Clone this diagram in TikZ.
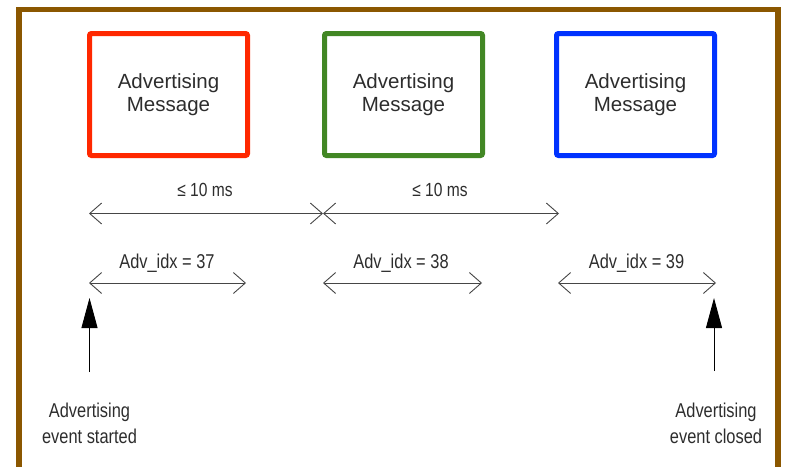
\documentclass[tikz,border=0pt]{standalone}
\usepackage{fontspec}
\setmainfont{Liberation Sans}
\newfontfamily\narrowfont[FakeStretch=0.82]{Liberation Sans}
\usetikzlibrary{arrows.meta}
\definecolor{framebrown}{RGB}{139,87,0}
\definecolor{boxred}{RGB}{255,40,0}
\definecolor{boxgreen}{RGB}{66,135,36}
\definecolor{boxblue}{RGB}{0,50,255}
\definecolor{txtgray}{RGB}{45,45,45}
\definecolor{linegray}{RGB}{70,70,70}
\tikzset{
  msgbox/.style={draw, line width=5pt, rounded corners=2pt, minimum width=158pt,
    minimum height=122pt, align=center, text=txtgray, inner sep=0pt,
    font=\fontsize{20.5}{23.5}\selectfont},
  span/.style={draw=linegray, line width=0.9pt, {Straight Barb[length=12pt,width=21pt]}-{Straight Barb[length=12pt,width=21pt]}},
  msglabel/.style={text=txtgray, inner sep=0pt, anchor=base, font=\narrowfont\fontsize{19}{21}\selectfont},
  idxlabel/.style={text=txtgray, inner sep=0pt, anchor=base, font=\narrowfont\fontsize{20}{22}\selectfont},
  evlabel/.style={text=txtgray, inner sep=0pt, align=center, font=\narrowfont\fontsize{20}{26}\selectfont},
  evarrow/.style={draw=black, line width=0.9pt, -{Triangle[length=30pt,width=16pt]}}
}
\begin{document}
\begin{tikzpicture}[x=1pt,y=-1pt]
\useasboundingbox (0,0) rectangle (786,466);
% frame
\draw[framebrown, line width=5.5pt] (19,470) -- (19,9.5) -- (778,9.5) -- (778,470);
% message boxes
\node[msgbox, draw=boxred] (m1) at (168.5,94.5) {Advertising\\Message};
\node[msgbox, draw=boxgreen] (m2) at (403.5,94.5) {Advertising\\Message};
\node[msgbox, draw=boxblue] (m3) at (635.5,94.5) {Advertising\\Message};
% interval row
\coordinate (t0) at (89,213.5);
\coordinate (t1) at (323,213.5);
\coordinate (t2) at (559,213.5);
\draw[span] (t0) -- (t1);
\draw[span] (t1) -- (t2);
\node[msglabel] (ms1) at (205,196.5) {≤ 10 ms};
\node[msglabel] (ms2) at (440,196.5) {≤ 10 ms};
% index row
\coordinate (a0) at (89,283);
\coordinate (a1) at (246,283);
\coordinate (b0) at (323,283);
\coordinate (b1) at (482,283);
\coordinate (c0) at (558,283);
\coordinate (c1) at (716,283);
\draw[span] (a0) -- (a1);
\draw[span] (b0) -- (b1);
\draw[span] (c0) -- (c1);
\node[idxlabel] (i1) at (167,268) {Adv\_idx = 37};
\node[idxlabel] (i2) at (401,268) {Adv\_idx = 38};
\node[idxlabel] (i3) at (636.5,268) {Adv\_idx = 39};
% event arrows
\coordinate (s0) at (89.5,372);
\coordinate (s1) at (89.5,298);
\coordinate (e0) at (714,371);
\coordinate (e1) at (714,298);
\draw[evarrow] (s0) -- (s1);
\draw[evarrow] (e0) -- (e1);
\node[evlabel] (start) at (89.5,423.5) {Advertising\\event started};
\node[evlabel] (close) at (716,423.5) {Advertising\\event closed};
\end{tikzpicture}
\end{document}
